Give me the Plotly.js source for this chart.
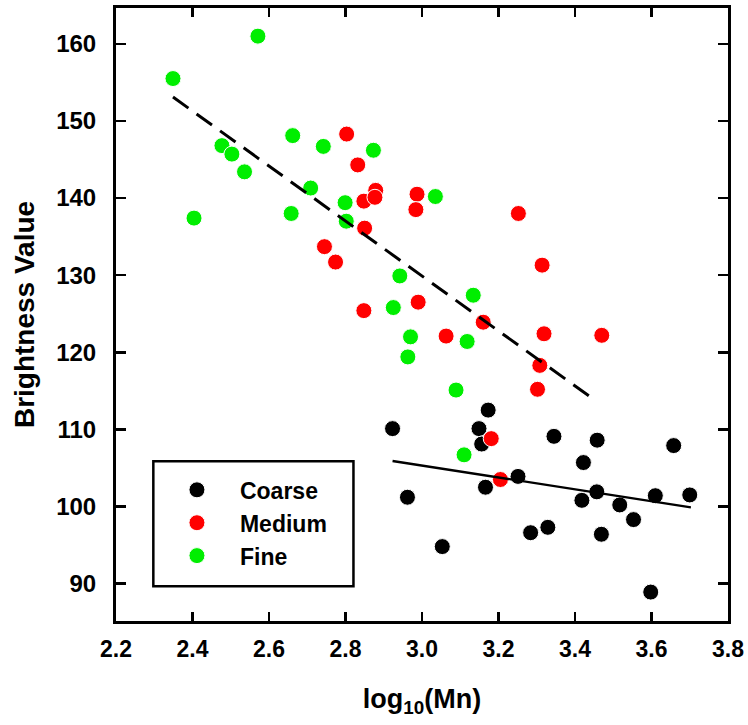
<!DOCTYPE html>
<html>
<head>
<meta charset="utf-8">
<script src="https://cdn.plot.ly/plotly-3.0.1.min.js"></script>
<style>html,body{margin:0;padding:0;background:#fff;}#chart{width:748px;height:725px;}</style>
</head>
<body>
<div id="chart"></div>
<script>
// Series names
const seriesNames = ["Coarse", "Medium", "Fine"];

// Coarse (black)
const coarseX = [2.923, 2.962, 3.053, 3.149, 3.156, 3.173, 3.166, 3.251, 3.284, 3.329, 3.345, 3.422, 3.418, 3.458, 3.457, 3.469, 3.517, 3.553, 3.598, 3.610, 3.658, 3.700];
const coarseY = [110.1, 101.2, 94.8, 110.1, 108.1, 112.5, 102.5, 103.9, 96.6, 97.3, 109.1, 105.7, 100.8, 108.6, 101.9, 96.4, 100.2, 98.3, 88.9, 101.4, 107.9, 101.5];

// Medium (red)
const mediumX = [2.803, 2.832, 2.848, 2.879, 2.877, 2.987, 2.984, 2.850, 2.745, 2.774, 2.848, 2.990, 3.063, 3.160, 3.252, 3.314, 3.319, 3.470, 3.308, 3.302, 3.181, 3.205];
const mediumY = [148.3, 144.3, 139.6, 141.0, 140.1, 140.5, 138.5, 136.1, 133.7, 131.7, 125.4, 126.5, 122.1, 123.9, 138.0, 131.3, 122.4, 122.2, 118.3, 115.2, 108.8, 103.5];

// Fine (green)
const fineX = [2.349, 2.571, 2.477, 2.503, 2.536, 2.404, 2.662, 2.742, 2.873, 2.709, 2.658, 2.799, 2.802, 3.035, 2.942, 2.925, 2.970, 2.963, 3.134, 3.118, 3.089, 3.110];
const fineY = [155.5, 161.0, 146.8, 145.7, 143.4, 137.4, 148.1, 146.7, 146.2, 141.3, 138.0, 139.4, 137.0, 140.2, 129.9, 125.8, 122.0, 119.4, 127.4, 121.4, 115.1, 106.7];

// Trend lines (end points)
const trendAllX = [2.349, 3.446];
const trendAllY = [153.1, 114.0];
const trendCoarseX = [2.923, 3.703];
const trendCoarseY = [105.9, 99.9];

// Axis ticks
const xTicks = [2.2, 2.4, 2.6, 2.8, 3.0, 3.2, 3.4, 3.6, 3.8];
const xTickText = ["2.2", "2.4", "2.6", "2.8", "3.0", "3.2", "3.4", "3.6", "3.8"];
const yTicks = [90, 100, 110, 120, 130, 140, 150, 160];

const FONT = "Liberation Sans, Arial, Helvetica, sans-serif";
const colors = ["#000000", "#ff0000", "#00ee00"];

function markerTrace(x, y, i) {
  return {
    type: "scatter", mode: "markers", x: x, y: y, name: seriesNames[i],
    legendgroup: "g" + i,
    marker: {color: colors[i], size: 16, line: {color: "#ffffff", width: 1}},
    hoverinfo: "x+y"
  };
}

const data = [
  markerTrace(coarseX, coarseY, 0),
  markerTrace(mediumX, mediumY, 1),
  markerTrace(fineX, fineY, 2),
  {type: "scatter", mode: "lines", x: trendAllX, y: trendAllY, showlegend: false,
   line: {color: "#000", width: 3, dash: "19px,10px"}},
  {type: "scatter", mode: "lines", x: trendCoarseX, y: trendCoarseY, showlegend: false,
   line: {color: "#000", width: 2.3}}
];

const layout = {
  width: 748, height: 725,
  margin: {l: 116, r: 20, t: 8, b: 104, pad: 0},
  paper_bgcolor: "#fff", plot_bgcolor: "#fff",
  font: {family: FONT, color: "#000"},
  showlegend: true,
  xaxis: {
    range: [2.2, 3.8], tickvals: xTicks, ticktext: xTickText,
    showgrid: false, zeroline: false,
    showline: true, linecolor: "#000", linewidth: 3, mirror: "ticks",
    ticks: "inside", ticklen: 9, tickwidth: 2.5, tickcolor: "#000",
    tickfont: {family: FONT, size: 23, weight: "bold", color: "#000"},
    ticklabelstandoff: 5,
    title: {text: "log<sub>10</sub>(Mn)", font: {family: FONT, size: 27, weight: "bold", color: "#000"}, standoff: 29}
  },
  yaxis: {
    range: [85.15, 164.65], tickvals: yTicks,
    showgrid: false, zeroline: false,
    showline: true, linecolor: "#000", linewidth: 3, mirror: "ticks",
    ticks: "inside", ticklen: 10, tickwidth: 2.5, tickcolor: "#000",
    tickfont: {family: FONT, size: 24, weight: "bold", color: "#000"},
    ticklabelstandoff: 12,
    title: {text: "Brightness Value", font: {family: FONT, size: 28, weight: "bold", color: "#000"}, standoff: 14}
  },
  legend: {
    x: 0.062, y: 0.249, xanchor: "left", yanchor: "top",
    bgcolor: "rgba(0,0,0,0)", borderwidth: 0,
    itemwidth: 76, tracegroupgap: 0,
    font: {family: FONT, size: 23, weight: "bold", color: "#000"}
  },
  shapes: [
    {type: "rect", xref: "paper", yref: "paper", x0: 0.061, x1: 0.388, y0: 0.0566, y1: 0.2607,
     line: {color: "#000", width: 2.5}, fillcolor: "rgba(0,0,0,0)", layer: "below"}
  ]
};

Plotly.newPlot("chart", data, layout, {displayModeBar: false, staticPlot: true});
</script>
</body>
</html>
